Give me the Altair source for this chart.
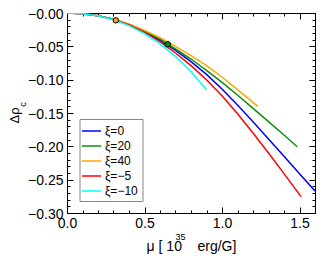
import altair as alt
import pandas as pd

# ---- data ----
series_labels = ["ξ=0", "ξ=20", "ξ=40", "ξ=−5", "ξ=−10"]
series_colors = ["#0000ff", "#0b8f0b", "#ffa500", "#ff0000", "#00ffff"]

mu_xi0 = [0.0, 0.1, 0.2, 0.3, 0.4, 0.5, 0.6, 0.7, 0.8, 0.9, 1.0, 1.1, 1.2, 1.3, 1.4, 1.5, 1.6]
rho_xi0 = [0.0, -0.001, -0.004, -0.0095, -0.0175, -0.028, -0.041, -0.056, -0.073, -0.092,
           -0.114, -0.138, -0.163, -0.189, -0.215, -0.241, -0.267]

mu_xi20 = [0.0, 0.1, 0.2, 0.3, 0.4, 0.5, 0.6, 0.7, 0.8, 0.9, 1.0, 1.1, 1.2, 1.3, 1.4, 1.485]
rho_xi20 = [0.0, -0.001, -0.004, -0.0095, -0.017, -0.027, -0.039, -0.054, -0.069, -0.086,
            -0.104, -0.123, -0.143, -0.163, -0.183, -0.2006]

mu_xi40 = [0.0, 0.1, 0.2, 0.3, 0.4, 0.5, 0.6, 0.7, 0.8, 0.9, 1.0, 1.1, 1.2, 1.23]
rho_xi40 = [0.0, -0.001, -0.004, -0.0093, -0.0165, -0.026, -0.037, -0.050, -0.064, -0.079,
            -0.096, -0.115, -0.134, -0.140]

mu_xim5 = [0.0, 0.1, 0.2, 0.3, 0.4, 0.5, 0.6, 0.7, 0.8, 0.9, 1.0, 1.1, 1.2, 1.3, 1.4, 1.51]
rho_xim5 = [0.0, -0.001, -0.004, -0.0097, -0.018, -0.029, -0.043, -0.060, -0.079, -0.100,
            -0.124, -0.151, -0.180, -0.210, -0.241, -0.2755]

mu_xim10 = [0.0, 0.1, 0.2, 0.3, 0.4, 0.5, 0.6, 0.7, 0.8, 0.9]
rho_xim10 = [0.0, -0.001, -0.0042, -0.010, -0.019, -0.031, -0.046, -0.065, -0.088, -0.115]

point_mu = [0.315, 0.65]
point_rho = [-0.011, -0.047]
point_fill = ["#ffa500", "#0b8f0b"]

x_ticks_major = [0.0, 0.5, 1.0, 1.5]
x_ticks_minor = [round(0.1 * i, 1) for i in range(17)]
y_ticks_major = [-0.30, -0.25, -0.20, -0.15, -0.10, -0.05, 0.0]
y_ticks_minor = [round(-0.01 * i, 2) for i in range(31)]

# ---- build tables ----
rows = []
for lab, mus, rhos in zip(series_labels,
                          [mu_xi0, mu_xi20, mu_xi40, mu_xim5, mu_xim10],
                          [rho_xi0, rho_xi20, rho_xi40, rho_xim5, rho_xim10]):
    for i, (m, r) in enumerate(zip(mus, rhos)):
        rows.append({"series": lab, "mu": m, "rho": r, "i": i})
df = pd.DataFrame(rows)
pts = pd.DataFrame({"mu": point_mu, "rho": point_rho, "fill": point_fill})

FONT = "Liberation Sans"
xs = alt.Scale(domain=[0, 1.6], nice=False, zero=False)
ys = alt.Scale(domain=[-0.30, 0.0], nice=False, zero=False)

lines = alt.Chart(df).mark_line(strokeWidth=1.5, clip=True).encode(
    x=alt.X("mu:Q", scale=xs, axis=alt.Axis(
        orient="bottom", values=x_ticks_major, format=".1f", ticks=False, domain=False,
        grid=False, labelFlush=False, labelPadding=3, labelFontSize=14, labelFont=FONT,
        labelColor="black",
        title="μ [ 10\u00a0\u00a0\u00a0\u00a0erg/G]", titleFont=FONT, titleFontSize=14,
        titleFontWeight="normal", titleColor="black", titleBaseline="alphabetic",
        titleX=124, titleY=37)),
    y=alt.Y("rho:Q", scale=ys, axis=alt.Axis(
        orient="left", values=y_ticks_major,
        labelExpr="'\u2212' + format(abs(datum.value), '.2f')",
        ticks=False, domain=False, grid=False, labelPadding=4, labelFontSize=14,
        labelFont=FONT, labelColor="black", labelOffset=1,
        title="Δρ", titleFont=FONT, titleFontSize=13, titleFontWeight="normal",
        titleColor="black", titleAngle=270, titleBaseline="alphabetic",
        titleX=-49, titleY=102)),
    color=alt.Color("series:N", sort=series_labels,
                    scale=alt.Scale(domain=series_labels, range=series_colors),
                    legend=alt.Legend(
                        orient="none", legendX=12.5, legendY=106, title=None,
                        symbolType="M-1.36,0H1.36", symbolSize=196, symbolStrokeWidth=1.5,
                        labelFont=FONT, labelFontSize=12, labelColor="black", labelOffset=5.5,
                        rowPadding=1, padding=4, strokeColor="#888888", fillColor="white",
                        cornerRadius=0)),
    order=alt.Order("i:Q"),
)

points = alt.Chart(pts).mark_point(filled=True, shape="circle", size=30, opacity=1,
                                   stroke="black", strokeWidth=1).encode(
    x=alt.X("mu:Q", scale=xs, axis=None),
    y=alt.Y("rho:Q", scale=ys, axis=None),
    fill=alt.Fill("fill:N", scale=None),
)


def x_tick_layer(orient, vals, size, title=None, extra=None):
    kw = dict(orient=orient, values=vals, tickSize=size, offset=-size, labels=False,
              domain=False, grid=False, tickColor="black", tickWidth=1)
    if title is not None:
        kw.update(title=title)
        kw.update(extra or {})
    else:
        kw.update(title=None)
    return alt.Chart(df).mark_line(opacity=0).encode(
        x=alt.X("mu:Q", scale=xs, axis=alt.Axis(**kw)),
        y=alt.Y("rho:Q", scale=ys, axis=None),
        detail="series:N",
    )


def y_tick_layer(orient, vals, size, title=None, extra=None):
    kw = dict(orient=orient, values=vals, tickSize=size, offset=-size, labels=False,
              domain=False, grid=False, tickColor="black", tickWidth=1)
    if title is not None:
        kw.update(title=title)
        kw.update(extra or {})
    else:
        kw.update(title=None)
    return alt.Chart(df).mark_line(opacity=0).encode(
        x=alt.X("mu:Q", scale=xs, axis=None),
        y=alt.Y("rho:Q", scale=ys, axis=alt.Axis(**kw)),
        detail="series:N",
    )


sup_extra = dict(titleFont=FONT, titleFontSize=9, titleFontWeight="normal", titleColor="black",
                 titleBaseline="alphabetic", titleX=113, titleY=29)
sub_extra = dict(titleFont=FONT, titleFontSize=9, titleFontWeight="normal", titleColor="black",
                 titleAngle=270, titleBaseline="alphabetic", titleX=-45, titleY=91)

layers = [
    x_tick_layer("bottom", x_ticks_major, 6),
    x_tick_layer("bottom", x_ticks_minor, 3, title="35", extra=sup_extra),
    x_tick_layer("top", x_ticks_major, 6),
    x_tick_layer("top", x_ticks_minor, 3),
    y_tick_layer("left", y_ticks_major, 6),
    y_tick_layer("left", y_ticks_minor, 3, title="c", extra=sub_extra),
    y_tick_layer("right", y_ticks_major, 6),
    y_tick_layer("right", y_ticks_minor, 3),
    lines,
    points,
]

chart = alt.layer(*layers).resolve_axis(x="independent", y="independent").properties(
    width=248, height=200,
    autosize=alt.AutoSizeParams(type="none"),
    padding={"left": 59, "top": 5, "right": 9, "bottom": 45},
    background="white",
).configure_view(stroke="black", strokeWidth=1)

chart.save("out.html", embed_options={"renderer": "svg", "actions": False})
